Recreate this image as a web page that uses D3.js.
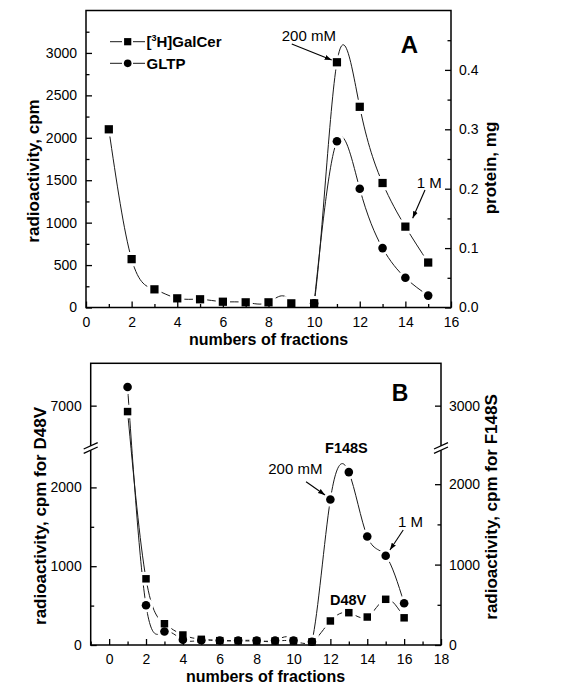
<!DOCTYPE html>
<html><head><meta charset="utf-8">
<script src="https://cdn.jsdelivr.net/npm/d3@7"></script>
<style>
body{margin:0;background:#fff;}
svg{display:block;}
text{font-family:"Liberation Sans",Arial,Helvetica,sans-serif;fill:#000;}
</style>
</head><body>
<svg id="chart" width="586" height="690"></svg>
<script>
// ---------- DATA ----------
// Panel A
const fractionsA = [1,2,3,4,5,6,7,8,9,10,11,12,13,14,15];
const galcerA = [2100,570,214,108,97,68,61,61,49,49,2890,2365,1467,953,530]; // cpm (left axis)
const gltpFractionsA = [10,11,12,13,14,15];
const gltpA = [0.007,0.28,0.20,0.10,0.05,0.02]; // protein, mg (right axis)
const xTicksA = [0,2,4,6,8,10,12,14,16];
const xMinorA = [1,3,5,7,9,11,13,15];
const yLeftTicksA = [0,500,1000,1500,2000,2500,3000];
const yLeftMinorA = [250,750,1250,1750,2250,2750,3250];
const yRightTicksA = [0.0,0.1,0.2,0.3,0.4];
const yRightMinorA = [0.05,0.15,0.25,0.35,0.45];

// Panel B
const fractionsB = [1,2,3,4,5,6,7,8,9,10,11,12,13,14,15,16];
const d48vB = [6930,840,270,127,72,55,53,50,50,50,40,305,410,355,580,345];   // left axis
const f148sB = [3220,495,168,65,60,56,55,55,55,55,40,1810,2150,1350,1110,520]; // right axis
const xTicksB = [0,2,4,6,8,10,12,14,16,18];
const xMinorB = [-1,1,3,5,7,9,11,13,15,17];
const yLeftTicksB = [0,1000,2000,7000];
const yLeftMinorB = [500,1500];
const yRightTicksB = [0,1000,2000,3000];
const yRightMinorB = [500,1500];

// ---------- SETUP ----------
const svg = d3.select("#chart");
const FONT = '"Liberation Sans",Arial,Helvetica,sans-serif';
const lineColor = "#1a1a1a";

function fmtA(d){ return d.toFixed(1); }

// Panel A geometry
const A = {l:86, r:451, t:10.5, b:307.5};
const xA = d3.scaleLinear().domain([0,16]).range([A.l, A.r]);
const yLA = d3.scaleLinear().domain([0,3500]).range([A.b, A.t]);
const yRA = d3.scaleLinear().domain([0,0.5]).range([A.b, A.t]);

// Panel B geometry (broken y axes)
const B = {l:90.7, r:441, t:363.3, b:645};
const brkY = 448;
const xB = d3.scaleLinear().domain([-1,18]).range([B.l, B.r]);
const yLB = d3.scaleLinear().domain([0,2500,6500,7500]).range([B.b, brkY, brkY, B.t]);
const yRB = d3.scaleLinear().domain([0,2450,2500,3500]).range([B.b, brkY, brkY, B.t]);

const defs = svg.append("defs");
defs.append("clipPath").attr("id","clipA").append("rect")
  .attr("x",A.l).attr("y",A.t).attr("width",A.r-A.l).attr("height",A.b-A.t);
defs.append("clipPath").attr("id","clipB").append("rect")
  .attr("x",B.l).attr("y",B.t).attr("width",B.r-B.l).attr("height",B.b-B.t);
defs.append("marker").attr("id","arrow").attr("viewBox","0 0 10 10")
  .attr("refX",10).attr("refY",5).attr("markerWidth",7).attr("markerHeight",7)
  .attr("markerUnits","userSpaceOnUse").attr("orient","auto")
  .append("path").attr("d","M0,1.5 L10,5 L0,8.5 Z").attr("fill","#000");

// ---------- helpers ----------
function drawCurve(g, xs, ys, xScale, yScale, clip){
  const line = d3.line().x((d,i)=>xScale(xs[i])).y((d,i)=>yScale(ys[i])).curve(d3.curveNatural);
  g.append("path").attr("d", line(ys)).attr("fill","none")
    .attr("stroke",lineColor).attr("stroke-width",1).attr("clip-path","url(#"+clip+")");
}
function drawMarkers(g, xs, ys, xScale, yScale, shape, size, halo){
  const sym = d3.symbol().type(shape==="square"?d3.symbolSquare:d3.symbolCircle).size(size);
  g.selectAll(null).data(ys).enter().append("path")
    .attr("d", sym)
    .attr("transform",(d,i)=>`translate(${xScale(xs[i])},${yScale(d)})`)
    .attr("fill", halo? "#fff":"#000")
    .attr("stroke", halo? "#fff":"none")
    .attr("stroke-width", halo? 6:0);
}
function styleAxis(g, size){
  g.select(".domain").remove();
  g.selectAll(".tick line").attr("stroke","#000").attr("stroke-width",1.3);
  g.selectAll(".tick text").attr("font-size",size).attr("font-family",FONT).attr("fill","#000");
}
function addAxis(kind, scale, pos, ticks, minor, fmt, pad){
  const mk = kind==="bottom"?d3.axisBottom:kind==="left"?d3.axisLeft:d3.axisRight;
  const tr = (kind==="bottom")?`translate(0,${pos})`:`translate(${pos},0)`;
  const major = mk(scale).tickValues(ticks).tickSize(-6).tickPadding(pad).tickFormat(fmt||d3.format("d"));
  const gm = svg.append("g").attr("transform",tr).call(major);
  styleAxis(gm, 14);
  const mn = mk(scale).tickValues(minor).tickSize(-3.5).tickFormat("");
  const gn = svg.append("g").attr("transform",tr).call(mn);
  styleAxis(gn, 14);
}

// ---------- PANEL A ----------
const gA = svg.append("g");
drawCurve(gA, fractionsA, galcerA, xA, yLA, "clipA");
drawCurve(gA, gltpFractionsA, gltpA, xA, yRA, "clipA");
drawMarkers(gA, fractionsA, galcerA, xA, yLA, "square", 68, true);
drawMarkers(gA, gltpFractionsA, gltpA, xA, yRA, "circle", 58, true);
drawMarkers(gA, fractionsA, galcerA, xA, yLA, "square", 68, false);
drawMarkers(gA, gltpFractionsA, gltpA, xA, yRA, "circle", 58, false);

addAxis("bottom", xA, A.b, xTicksA, xMinorA, d3.format("d"), 10);
addAxis("left", yLA, A.l, yLeftTicksA, yLeftMinorA, d3.format("d"), 9);
addAxis("right", yRA, A.r, yRightTicksA, yRightMinorA, fmtA, 8);
svg.append("rect").attr("x",A.l).attr("y",A.t).attr("width",A.r-A.l).attr("height",A.b-A.t)
  .attr("fill","none").attr("stroke","#000").attr("stroke-width",1.5);

// Legend A
const legA = svg.append("g");
[[41.7,"square"],[63.3,"circle"]].forEach(([yy,sh])=>{
  legA.append("line").attr("x1",110).attr("x2",122).attr("y1",yy).attr("y2",yy).attr("stroke",lineColor);
  legA.append("line").attr("x1",133).attr("x2",145).attr("y1",yy).attr("y2",yy).attr("stroke",lineColor);
  legA.append("path").attr("d",d3.symbol().type(sh==="square"?d3.symbolSquare:d3.symbolCircle).size(sh==="square"?52:46))
    .attr("transform",`translate(127.7,${yy})`).attr("fill","#000");
});
const t1 = legA.append("text").attr("x",146.5).attr("y",47).attr("font-size",15).attr("font-weight","bold");
t1.append("tspan").text("[");
t1.append("tspan").attr("font-size",9).attr("dy",-6).text("3");
t1.append("tspan").attr("dy",6).text("H]GalCer");
legA.append("text").attr("x",146.5).attr("y",68.6).attr("font-size",15).attr("font-weight","bold").text("GLTP");

// Annotations A
svg.append("text").attr("x",xA(8.58)).attr("y",yLA(3141)).attr("font-size",15).text("200 mM");
svg.append("line").attr("x1",xA(9.02)).attr("y1",yLA(3105)).attr("x2",xA(10.77)).attr("y2",yLA(2917))
  .attr("stroke","#000").attr("stroke-width",1.1).attr("marker-end","url(#arrow)");
svg.append("text").attr("x",xA(14.5)).attr("y",yLA(1411)).attr("font-size",15).text("1 M");
svg.append("line").attr("x1",xA(14.86)).attr("y1",yLA(1385)).attr("x2",xA(14.32)).attr("y2",yLA(1051))
  .attr("stroke","#000").attr("stroke-width",1.1).attr("marker-end","url(#arrow)");
svg.append("text").attr("x",xA(13.8)).attr("y",yLA(2999)).attr("font-size",24).attr("font-weight","bold").text("A");

// Axis titles A
svg.append("text").attr("x",(A.l+A.r)/2).attr("y",345).attr("text-anchor","middle")
  .attr("font-size",16).attr("font-weight","bold").text("numbers of fractions");
svg.append("text").attr("transform",`translate(39,${(A.t+A.b)/2 + 12}) rotate(-90)`).attr("text-anchor","middle")
  .attr("font-size",17).attr("font-weight","bold").text("radioactivity, cpm");
svg.append("text").attr("transform",`translate(496,${168}) rotate(-90)`).attr("text-anchor","middle")
  .attr("font-size",17).attr("font-weight","bold").text("protein, mg");

// ---------- PANEL B ----------
const gB = svg.append("g");
drawCurve(gB, fractionsB, d48vB, xB, yLB, "clipB");
drawCurve(gB, fractionsB, f148sB, xB, yRB, "clipB");
drawMarkers(gB, fractionsB, d48vB, xB, yLB, "square", 56, true);
drawMarkers(gB, fractionsB, f148sB, xB, yRB, "circle", 58, true);
drawMarkers(gB, fractionsB, d48vB, xB, yLB, "square", 56, false);
drawMarkers(gB, fractionsB, f148sB, xB, yRB, "circle", 58, false);

addAxis("bottom", xB, B.b, xTicksB, xMinorB, d3.format("d"), 9.5);
addAxis("left", yLB, B.l, yLeftTicksB, yLeftMinorB, d3.format("d"), 9);
addAxis("right", yRB, B.r, yRightTicksB, yRightMinorB, d3.format("d"), 8);
svg.append("rect").attr("x",B.l).attr("y",B.t).attr("width",B.r-B.l).attr("height",B.b-B.t)
  .attr("fill","none").attr("stroke","#000").attr("stroke-width",1.5);

// break marks
[B.l, B.r].forEach(xx=>{
  svg.append("rect").attr("x",xx-2).attr("y",brkY-2.2).attr("width",4).attr("height",4.4).attr("fill","#fff");
  [-2.2,2.2].forEach(dy=>{
    svg.append("line").attr("x1",xx-7).attr("y1",brkY+dy+3.2).attr("x2",xx+7).attr("y2",brkY+dy-3.2)
      .attr("stroke","#000").attr("stroke-width",1.3);
  });
});

// Annotations B
svg.append("text").attr("x",xB(8.63)).attr("y",yRB(2127)).attr("font-size",15).text("200 mM");
svg.append("line").attr("x1",xB(10.68)).attr("y1",yRB(2031)).attr("x2",xB(11.71)).attr("y2",yRB(1866))
  .attr("stroke","#000").attr("stroke-width",1.1).attr("marker-end","url(#arrow)");
svg.append("text").attr("x",xB(11.71)).attr("y",yRB(2388)).attr("font-size",14.5).attr("font-weight","bold").text("F148S");
svg.append("text").attr("x",xB(15.67)).attr("y",yRB(1468)).attr("font-size",15).text("1 M");
svg.append("line").attr("x1",xB(15.95)).attr("y1",yRB(1430)).attr("x2",xB(15.23)).attr("y2",yRB(1182))
  .attr("stroke","#000").attr("stroke-width",1.1).attr("marker-end","url(#arrow)");
svg.append("text").attr("x",xB(11.98)).attr("y",yRB(497)).attr("font-size",14.5).attr("font-weight","bold").text("D48V");
svg.append("text").attr("x",xB(15.33)).attr("y",yRB(3053)).attr("font-size",23).attr("font-weight","bold").text("B");

// Axis titles B
svg.append("text").attr("x",265.5).attr("y",682).attr("text-anchor","middle")
  .attr("font-size",16).attr("font-weight","bold").text("numbers of fractions");
svg.append("text").attr("transform",`translate(46,516) rotate(-90)`).attr("text-anchor","middle")
  .attr("font-size",17).attr("font-weight","bold").text("radioactivity, cpm for D48V");
svg.append("text").attr("transform",`translate(497,507) rotate(-90)`).attr("text-anchor","middle")
  .attr("font-size",17).attr("font-weight","bold").text("radioactivity, cpm for F148S");
</script>
</body></html>
